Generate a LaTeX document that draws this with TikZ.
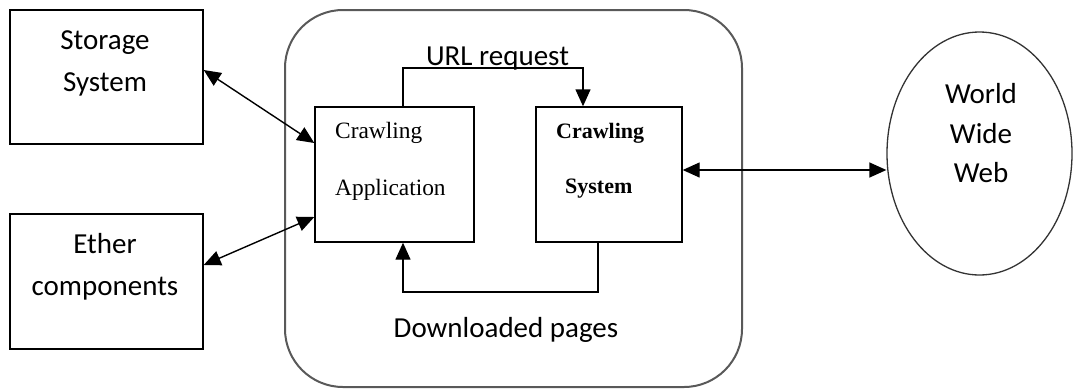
\documentclass[tikz,border=0pt]{standalone}
\usepackage{fontspec}
\setmainfont{Carlito}
\newfontfamily\serifface{Liberation Serif}
\usetikzlibrary{arrows.meta,shapes.geometric}

\tikzset{
  box/.style={draw=black, line width=1.4pt, rectangle, inner sep=0pt},
  calib/.style={font=\fontsize{29}{35}\selectfont, inner sep=0pt, anchor=base},
  serifapp/.style={font=\serifface\fontsize{23.4}{28}\selectfont, inner sep=0pt, anchor=base west},
  serifsys/.style={font=\serifface\bfseries\fontsize{22}{26}\selectfont, inner sep=0pt, anchor=base west},
  link/.style={line width=1.4pt, -{Triangle[length=17pt,width=15pt]}},
  dlink/.style={line width=1.4pt, {Triangle[length=17pt,width=15pt]}-{Triangle[length=17pt,width=15pt]}},
}

\begin{document}
\begin{tikzpicture}[x=1pt,y=-1pt]
  \useasboundingbox (0,0) rectangle (1073,389);

  % outer rounded frame of the crawler
  \node[draw=black!65, line width=2pt, rounded corners=58pt,
        minimum width=457pt, minimum height=377pt] (crawler) at (513.5,198.5) {};

  % left-hand boxes
  \node[box, minimum width=193pt, minimum height=134pt] (storage) at (106.5,77) {};
  \node[calib] (storageA) at (105,49) {Storage};
  \node[calib] (storageB) at (105,91) {System};

  \node[box, minimum width=193pt, minimum height=135pt] (ether) at (106.5,281.5) {};
  \node[calib] (etherA) at (105,253) {Ether};
  \node[calib] (etherB) at (105,295) {components};

  % inner boxes
  \node[box, minimum width=159pt, minimum height=135pt] (app) at (394.5,174.5) {};
  \node[serifapp] (appA) at (335,138) {Crawling};
  \node[serifapp] (appB) at (335,195) {Application};

  \node[box, minimum width=146pt, minimum height=135pt] (sys) at (609,174.5) {};
  \node[serifsys] (sysA) at (556,138) {Crawling};
  \node[serifsys] (sysB) at (565,193) {System};

  % the web
  \node[draw=black!80, line width=1.3pt, ellipse, minimum width=185pt,
        minimum height=243pt, inner sep=0pt] (www) at (979.5,153.5) {};
  \node[calib] (wwwA) at (981,103) {World};
  \node[calib] (wwwB) at (981,143) {Wide};
  \node[calib] (wwwC) at (981,182) {Web};

  % bidirectional links
  \coordinate (sIn)  at (storage.east |- 0,70);
  \coordinate (aTop) at (app.west |- 0,143);
  \coordinate (eIn)  at (ether.east |- 0,265);
  \coordinate (aBot) at (app.west |- 0,217);
  \draw[dlink] (sIn) -- (aTop);
  \draw[dlink] (eIn) -- (aBot);
  \draw[dlink] (sys.east |- 0,170) -- (www.west |- 0,170);

  % URL request loop
  \coordinate (urlL) at (403,68);
  \coordinate (urlR) at (583,68);
  \draw[link] (app.north -| urlL) -- (urlL) -- (urlR) -- (sys.north -| urlR);
  \node[calib] (url) at (497.5,65) {URL request};

  % downloaded pages loop
  \coordinate (dlR) at (598,292);
  \coordinate (dlL) at (403,292);
  \draw[link] (sys.south -| dlR) -- (dlR) -- (dlL) -- (app.south -| dlL);
  \node[calib] (dl) at (506,337) {Downloaded pages};
\end{tikzpicture}
\end{document}
